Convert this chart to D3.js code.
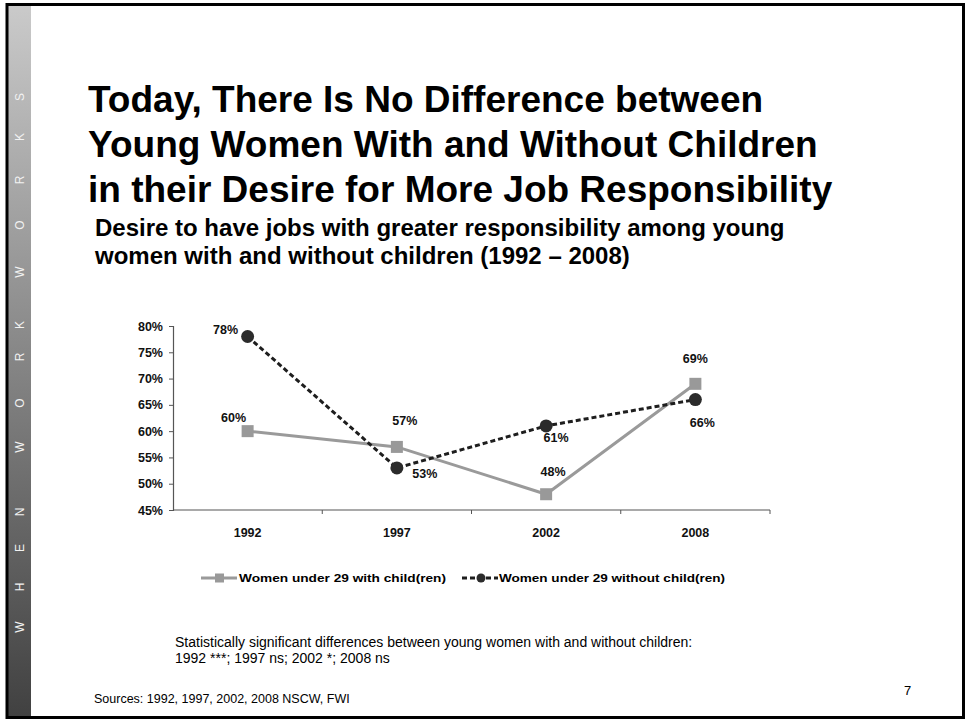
<!DOCTYPE html>
<html>
<head>
<meta charset="utf-8">
<script src="https://cdn.jsdelivr.net/npm/d3@7/dist/d3.min.js"></script>
<style>
  html, body { margin: 0; padding: 0; background: #fff; }
  svg { display: block; font-family: Arial, "Liberation Sans", sans-serif; }
</style>
</head>
<body>
<svg id="slide" width="966" height="721"></svg>
<script>
// ---- data ----
const years = ["1992", "1997", "2002", "2008"];
const withChildren = [60, 57, 48, 69];
const withoutChildren = [78, 53, 61, 66];
const yTicks = [45, 50, 55, 60, 65, 70, 75, 80];
const seriesNames = ["Women under 29 with child(ren)", "Women under 29 without child(ren)"];

const titleLines = [
  "Today, There Is No Difference between",
  "Young Women With and Without Children",
  "in their Desire for More Job Responsibility"
];
const subtitleLines = [
  "Desire to have jobs with greater responsibility among young",
  "women with and without children (1992 \u2013 2008)"
];
const noteLines = [
  "Statistically significant differences between young women with and without children:",
  "1992 ***; 1997 ns; 2002 *; 2008 ns"
];
const sourceText = "Sources: 1992, 1997, 2002, 2008 NSCW, FWI";
const pageNumber = "7";
const sideLetters = ["W", "H", "E", "N", "W", "O", "R", "K", "W", "O", "R", "K", "S"];

// ---- slide frame ----
const svg = d3.select("#slide");
const defs = svg.append("defs");
const grad = defs.append("linearGradient").attr("id", "sideGrad")
  .attr("x1", 0).attr("y1", 0).attr("x2", 0).attr("y2", 1);
grad.append("stop").attr("offset", "0%").attr("stop-color", "#cacaca");
grad.append("stop").attr("offset", "100%").attr("stop-color", "#414141");

svg.append("rect").attr("x", 8).attr("y", 5).attr("width", 23).attr("height", 711)
  .attr("fill", "url(#sideGrad)");

// vertical brand strip letters, reading bottom to top
const letterY = [627, 587, 548, 512, 447, 403, 357, 325, 272, 225, 180, 137, 97];
svg.append("g").selectAll("text").data(sideLetters).join("text")
  .attr("transform", (d, i) => `translate(20,${letterY[i]}) rotate(-90)`)
  .attr("text-anchor", "middle").attr("dy", "0.35em")
  .attr("font-size", 12).attr("fill", "#f2f2f2")
  .text(d => d);

svg.append("rect").attr("x", 7).attr("y", 4.5).attr("width", 956.5).attr("height", 713)
  .attr("fill", "none").attr("stroke", "#000").attr("stroke-width", 3);

// ---- headings ----
svg.append("g").selectAll("text").data(titleLines).join("text")
  .attr("x", 88).attr("y", (d, i) => 112 + i * 45)
  .attr("font-size", 37).attr("font-weight", "bold").attr("fill", "#000")
  .text(d => d);

svg.append("g").selectAll("text").data(subtitleLines).join("text")
  .attr("x", 95).attr("y", (d, i) => 236 + i * 28)
  .attr("font-size", 24).attr("font-weight", "bold").attr("fill", "#000")
  .text(d => d);

// ---- chart ----
const x = d3.scaleBand().domain(years).range([173, 770]).paddingInner(0).paddingOuter(0);
const y = d3.scaleLinear().domain([45, 80]).range([510, 326]);
const cx = d => x(d) + x.bandwidth() / 2;
const labelSize = 12.5;

const chart = svg.append("g");

// y axis
const yAxis = d3.axisLeft(y).tickValues(yTicks).tickSize(4).tickPadding(6)
  .tickFormat(d => d + "%");
const yg = chart.append("g").attr("transform", "translate(173,0)").call(yAxis);
yg.select(".domain").attr("stroke", "#555").attr("stroke-width", 1.2);
yg.selectAll(".tick line").attr("stroke", "#555");
yg.selectAll(".tick text").attr("font-size", labelSize).attr("font-weight", "bold")
  .attr("font-family", "Arial, 'Liberation Sans', sans-serif").attr("fill", "#111");

// x axis: baseline with boundary ticks between categories
const xg = chart.append("g");
xg.append("line").attr("x1", x.range()[0]).attr("x2", x.range()[1])
  .attr("y1", y(45)).attr("y2", y(45)).attr("stroke", "#555").attr("stroke-width", 1.2);
const bounds = years.map(d => x(d)).concat([x.range()[1]]);
xg.selectAll("line.tk").data(bounds.slice(1)).join("line").attr("class", "tk")
  .attr("x1", d => d).attr("x2", d => d).attr("y1", y(45)).attr("y2", y(45) + 4)
  .attr("stroke", "#555");
xg.selectAll("text").data(years).join("text")
  .attr("x", d => cx(d)).attr("y", 537).attr("text-anchor", "middle")
  .attr("font-size", labelSize).attr("font-weight", "bold").attr("fill", "#111")
  .text(d => d);

const line = d3.line().x((d, i) => cx(years[i])).y(d => y(d));

// series: with children (grey, squares)
chart.append("path").datum(withChildren).attr("d", line)
  .attr("fill", "none").attr("stroke", "#9a9a9a").attr("stroke-width", 3);
// series: without children (dark dashed, circles)
chart.append("path").datum(withoutChildren).attr("d", line)
  .attr("fill", "none").attr("stroke", "#1e1e1e").attr("stroke-width", 3)
  .attr("stroke-dasharray", "5,3");

chart.selectAll("rect.sq").data(withChildren).join("rect").attr("class", "sq")
  .attr("x", (d, i) => cx(years[i]) - 6).attr("y", d => y(d) - 6)
  .attr("width", 12).attr("height", 12).attr("fill", "#999");
chart.selectAll("circle.dot").data(withoutChildren).join("circle").attr("class", "dot")
  .attr("cx", (d, i) => cx(years[i])).attr("cy", d => y(d)).attr("r", 6.5)
  .attr("fill", "#2b2b2b");

// value labels, offset from each marker
const greyOffsets = [[-14, -9], [8, -22], [7, -18], [0, -21]];
const darkOffsets = [[-22, -3], [28, 10], [10, 16], [7, 27]];
function valueLabels(values, offsets) {
  chart.append("g").selectAll("text").data(values).join("text")
    .attr("x", (d, i) => cx(years[i]) + offsets[i][0])
    .attr("y", (d, i) => y(d) + offsets[i][1])
    .attr("text-anchor", "middle").attr("font-size", labelSize).attr("font-weight", "bold")
    .attr("fill", "#111").text(d => d + "%");
}
valueLabels(withChildren, greyOffsets);
valueLabels(withoutChildren, darkOffsets);

// legend
const lg = chart.append("g").attr("transform", "translate(0,578)");
lg.append("line").attr("x1", 201).attr("x2", 237).attr("y1", 0).attr("y2", 0)
  .attr("stroke", "#9a9a9a").attr("stroke-width", 3);
lg.append("rect").attr("x", 215).attr("y", -4.5).attr("width", 9).attr("height", 9).attr("fill", "#999");
lg.append("text").attr("x", 239).attr("y", 4).attr("font-size", 11.5).attr("font-weight", "bold")
  .attr("textLength", 207).attr("lengthAdjust", "spacingAndGlyphs").text(seriesNames[0]);
lg.append("line").attr("x1", 462).attr("x2", 498).attr("y1", 0).attr("y2", 0)
  .attr("stroke", "#1e1e1e").attr("stroke-width", 3).attr("stroke-dasharray", "5,3");
lg.append("circle").attr("cx", 481).attr("cy", 0).attr("r", 4.5).attr("fill", "#2b2b2b");
lg.append("text").attr("x", 499).attr("y", 4).attr("font-size", 11.5).attr("font-weight", "bold")
  .attr("textLength", 226).attr("lengthAdjust", "spacingAndGlyphs").text(seriesNames[1]);

// ---- notes ----
svg.append("g").selectAll("text").data(noteLines).join("text")
  .attr("x", 175).attr("y", (d, i) => 647 + i * 16)
  .attr("font-size", 14).attr("fill", "#000").text(d => d);
svg.append("text").attr("x", 94).attr("y", 703).attr("font-size", 12.5).attr("fill", "#000")
  .text(sourceText);
svg.append("text").attr("x", 904).attr("y", 695).attr("font-size", 13).attr("fill", "#000")
  .text(pageNumber);
</script>
</body>
</html>
